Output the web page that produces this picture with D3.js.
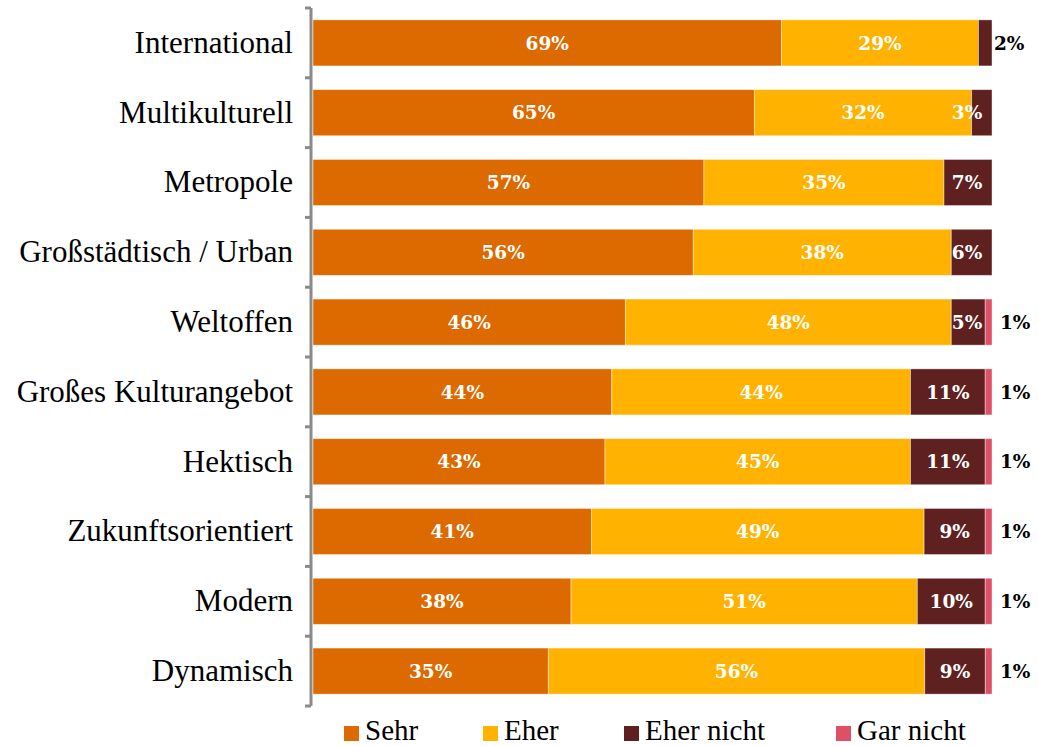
<!DOCTYPE html>
<html>
<head>
<meta charset="utf-8">
<script src="https://cdn.jsdelivr.net/npm/d3@7"></script>
<style>
body{margin:0;background:#fff}
</style>
</head>
<body>
<div id="chart"></div>
<script>
// Werte aus der Umfrage (Prozent)
var categories = ['International','Multikulturell','Metropole','Großstädtisch / Urban','Weltoffen','Großes Kulturangebot','Hektisch','Zukunftsorientiert','Modern','Dynamisch']
var seriesNames = ['Sehr','Eher','Eher nicht','Gar nicht']
var sehr      = [69,65,57,56,46,44,43,41,38,35]
var eher      = [29,32,35,38,48,44,45,49,51,56]
var eherNicht = [2,3,7,6,5,11,11,9,10,9]
var garNicht  = [0,0,0,0,1,1,1,1,1,1]
var colors = ['#DC6A00','#FFB300','#5E2120','#DF5068']

var rows = categories.map(function(c,i){
    return {cat:c,'Sehr':sehr[i],'Eher':eher[i],'Eher nicht':eherNicht[i],'Gar nicht':garNicht[i]}
})

var svg = d3.select('#chart').append('svg')
.attr('width',1038)
.attr('height',746)

var x = d3.scaleLinear().domain([0,1]).range([313,992])
var y = d3.scaleBand().domain(categories).range([8,706]).paddingInner(0.34).paddingOuter(0.17)
var color = d3.scaleOrdinal().domain(seriesNames).range(colors)

var stack = d3.stack().keys(seriesNames).offset(d3.stackOffsetExpand)
var layers = stack(rows)

var valueFont = '"DejaVu Serif", serif'

var g = svg.selectAll('.layer').data(layers).enter().append('g')
.attr('class','layer')
.attr('fill',function(d){return color(d.key)})

g.selectAll('rect').data(function(d){return d}).enter().append('rect')
.attr('x',function(d){return x(d[0])})
.attr('y',function(d){return y(d.data.cat)})
.attr('width',function(d){return Math.max(0,x(d[1])-x(d[0]))})
.attr('height',y.bandwidth())
.attr('stroke','#fff')
.attr('stroke-opacity',0.5)
.attr('stroke-width',0.8)

// Beschriftungen der Segmente
layers.forEach(function(layer){
    layer.forEach(function(d){
        var v = d.data[layer.key]
        if(v===0) return
        var x0 = x(d[0]), x1 = x(d[1])
        var yc = y(d.data.cat) + y.bandwidth()/2
        var t = svg.append('text')
        .attr('y',yc)
        .attr('dy','0.36em')
        .style('font-family',valueFont)
        .style('font-weight','bold')
        .style('font-size','18.5px')
        .text(v+'%')
        if(v<3){
            t.attr('x',x(1) + (layer.key==='Gar nicht' ? 8 : 2)).attr('fill','#000')
        }
        else{
            var cx = (x0+x1)/2
            if(layer.key==='Eher nicht'){cx = Math.min(cx, x(1)-25)}
            t.attr('x',cx).attr('text-anchor','middle').attr('fill','#fff')
        }
    })
})

// Achse mit Kategorien
var yaxis = svg.append('g')
.attr('transform','translate(311,0)')
.call(d3.axisLeft(y).tickSize(0).tickPadding(18))
yaxis.select('.domain').attr('stroke','#8a8a8a').attr('stroke-width',3)
.attr('d','M0,8V706')
yaxis.selectAll('.tick text')
.style('font-family','"Liberation Serif", serif')
.style('font-size','31px')
.attr('fill','#000')

var bounds = categories.map(function(c){return y(c)-y.step()*y.paddingInner()/2}).concat([706])
bounds[0] = 8
svg.append('g').selectAll('line').data(bounds).enter().append('line')
.attr('x1',305).attr('x2',311)
.attr('y1',function(d){return d}).attr('y2',function(d){return d})
.attr('stroke','#8a8a8a').attr('stroke-width',3)

// Legende
var legendX = [344,483,624,836]
var leg = svg.selectAll('.leg').data(seriesNames).enter().append('g')
.attr('class','leg')
.attr('transform',function(d,i){return 'translate('+legendX[i]+',726)'})
leg.append('rect').attr('width',15).attr('height',15).attr('fill',function(d){return color(d)})
leg.append('text').attr('x',21).attr('y',14)
.style('font-family','"Liberation Serif", serif')
.style('font-size','29px')
.text(function(d){return d})
</script>
</body>
</html>
